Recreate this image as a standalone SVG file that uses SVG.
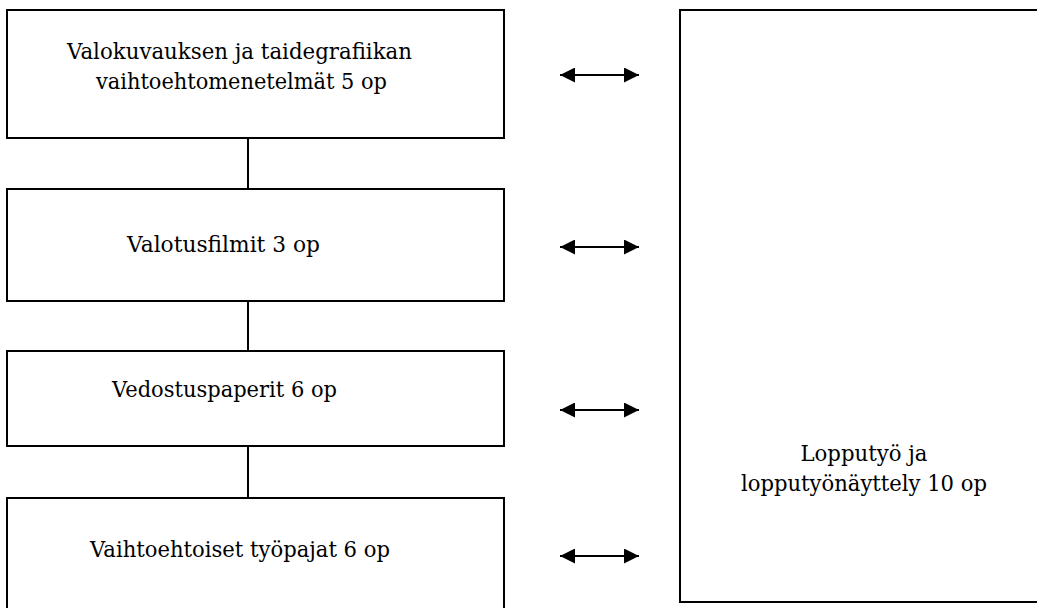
<svg xmlns="http://www.w3.org/2000/svg" width="1037" height="608" viewBox="0 0 1037 608">
<style>
.box{fill:#fff;stroke:#000;stroke-width:2}
.lbl{font-family:"DejaVu Serif",serif;font-size:23px;fill:#000}
.link{stroke:#000;stroke-width:2;fill:none}
.arr{stroke:#000;stroke-width:2;fill:none;marker-start:url(#ah);marker-end:url(#ah)}
</style>
<defs>
<marker id="ah" viewBox="0 0 15 15" refX="15" refY="7.5" markerWidth="15" markerHeight="15" markerUnits="userSpaceOnUse" orient="auto-start-reverse">
<path d="M0,0 L15,7.5 L0,15 Z" fill="#000"/>
</marker>
</defs>
<g id="connectors">
<line class="link" x1="248" y1="138" x2="248" y2="189"/>
<line class="link" x1="248" y1="301" x2="248" y2="351"/>
<line class="link" x1="248" y1="446" x2="248" y2="498"/>
<line class="arr" x1="560" y1="75" x2="639" y2="75"/>
<line class="arr" x1="560" y1="247" x2="639" y2="247"/>
<line class="arr" x1="560" y1="410" x2="639" y2="410"/>
<line class="arr" x1="560" y1="556" x2="639" y2="556"/>
</g>
<g id="n1">
<rect class="box" x="7" y="10" width="497" height="128"/>
<text class="lbl" x="67" y="59" textLength="345" lengthAdjust="spacingAndGlyphs">Valokuvauksen ja taidegrafiikan</text>
<text class="lbl" x="96" y="89" textLength="291" lengthAdjust="spacingAndGlyphs">vaihtoehtomenetelmät 5 op</text>
</g>
<g id="n2">
<rect class="box" x="7" y="189" width="497" height="112"/>
<text class="lbl" x="127" y="252" textLength="193" lengthAdjust="spacingAndGlyphs">Valotusfilmit 3 op</text>
</g>
<g id="n3">
<rect class="box" x="7" y="351" width="497" height="95"/>
<text class="lbl" x="112" y="397" textLength="225" lengthAdjust="spacingAndGlyphs">Vedostuspaperit 6 op</text>
</g>
<g id="n4">
<rect class="box" x="7" y="498" width="497" height="120"/>
<text class="lbl" x="90" y="557" textLength="300" lengthAdjust="spacingAndGlyphs">Vaihtoehtoiset työpajat 6 op</text>
</g>
<g id="n5">
<rect class="box" x="680" y="10" width="370" height="592"/>
<text class="lbl" x="864" y="461" text-anchor="middle" textLength="127" lengthAdjust="spacingAndGlyphs">Lopputyö ja</text>
<text class="lbl" x="864" y="491" text-anchor="middle" textLength="246" lengthAdjust="spacingAndGlyphs">lopputyönäyttely 10 op</text>
</g>
</svg>
